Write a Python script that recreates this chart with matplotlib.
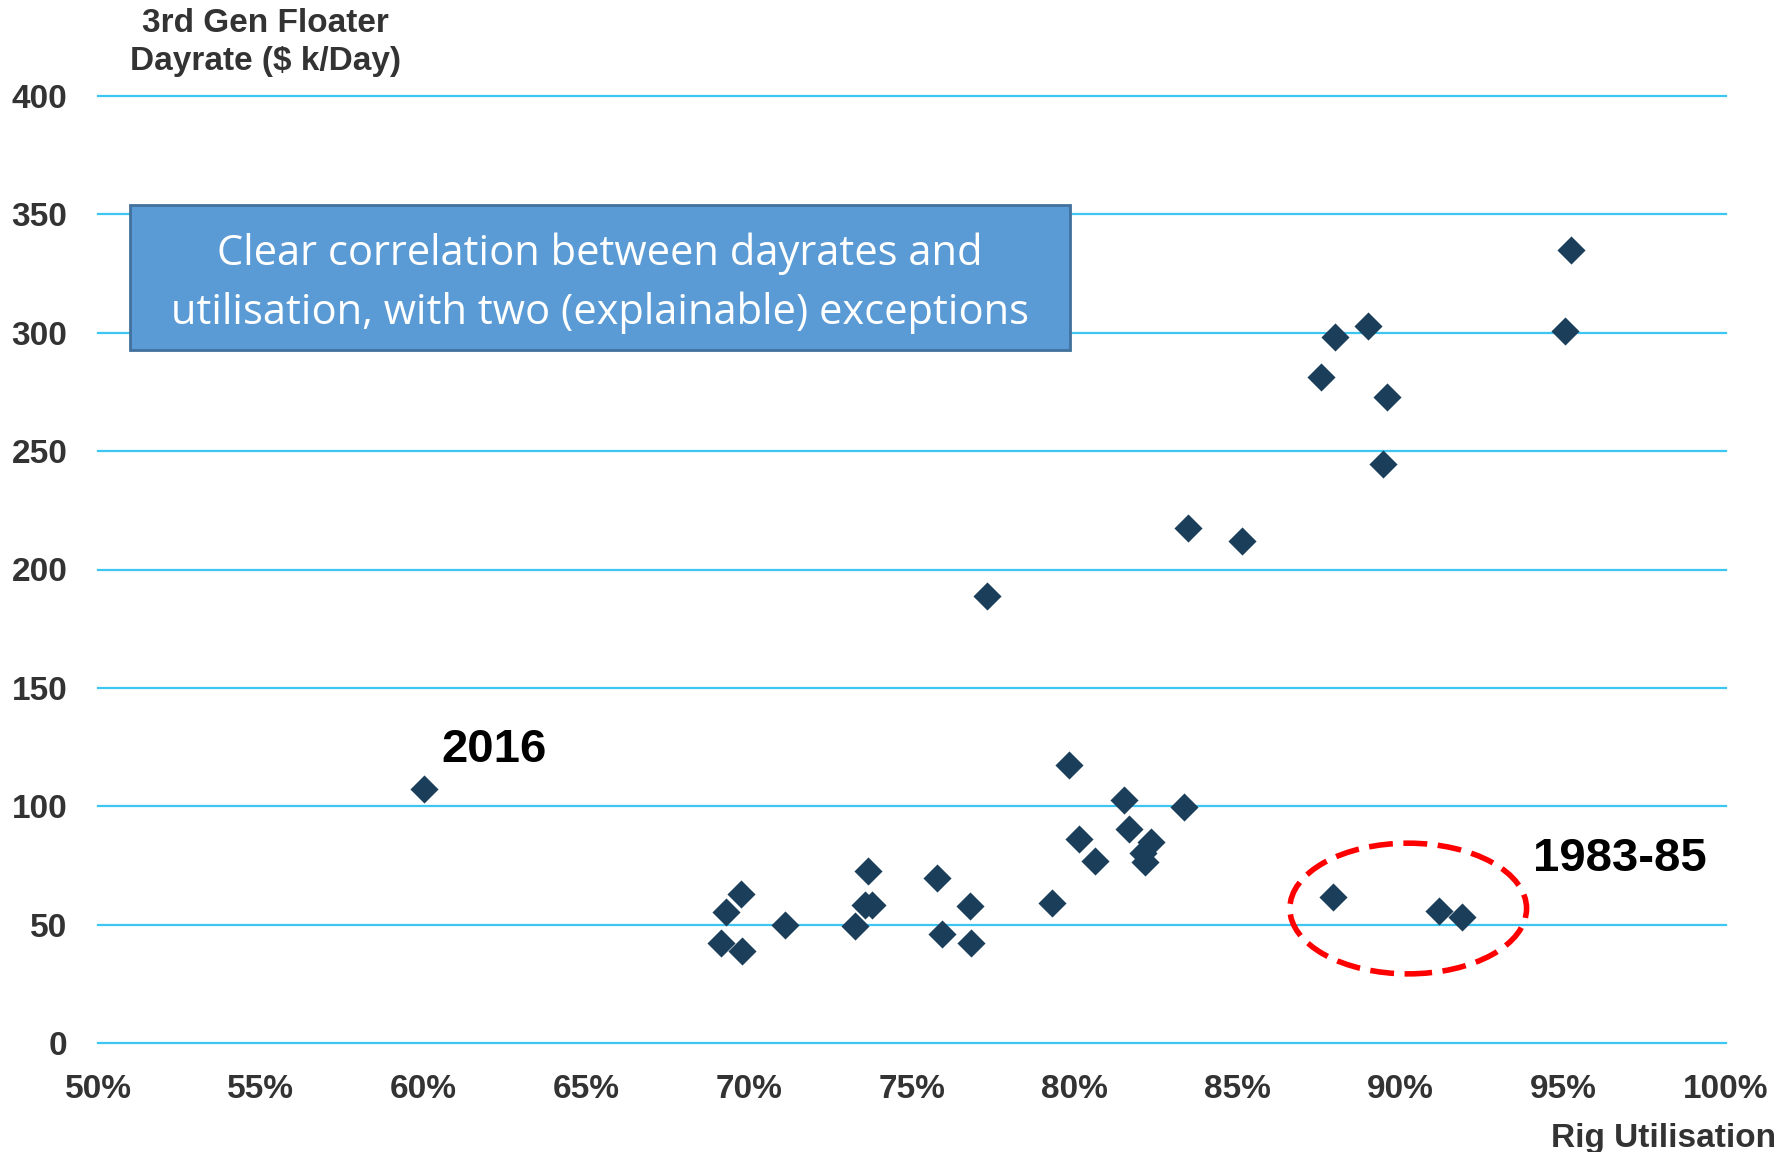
import matplotlib
matplotlib.use("Agg")
import matplotlib.pyplot as plt
from matplotlib.patches import Ellipse, Rectangle
from matplotlib.ticker import FuncFormatter

# ---- data ----
utilisation = [60.0, 69.14, 69.28, 69.75, 69.78, 71.09, 73.25, 73.57, 73.66, 73.77,
               75.77, 75.91, 76.78, 76.80, 77.30, 79.29, 79.83, 80.14, 80.61, 81.50,
               81.67, 82.09, 82.15, 82.35, 83.35, 83.49, 85.14, 87.55, 87.99, 89.02,
               89.58, 89.48, 95.07, 95.24, 87.94, 91.19, 91.88]
dayrate = [107.3, 42.2, 55.3, 63.1, 38.7, 50.0, 49.6, 58.3, 72.7, 58.3,
           69.7, 46.0, 58.0, 42.2, 189.0, 59.3, 117.5, 86.2, 77.0, 102.8,
           90.5, 80.3, 76.3, 84.7, 99.7, 217.7, 212.0, 281.5, 298.4, 302.7,
           272.7, 244.6, 300.8, 334.8, 61.7, 55.8, 53.4]
x_ticks = [50, 55, 60, 65, 70, 75, 80, 85, 90, 95, 100]
y_ticks = [0, 50, 100, 150, 200, 250, 300, 350, 400]
y_title = "3rd Gen Floater\nDayrate ($ k/Day)"
x_title = "Rig Utilisation"
box_text = "Clear correlation between dayrates and\nutilisation, with two (explainable) exceptions"
label_2016 = "2016"
label_8385 = "1983-85"

W, H = 1791, 1152
fig = plt.figure(figsize=(W / 100, H / 100), dpi=100)
ax = fig.add_axes([98 / W, 1 - 1043 / H, (1726 - 98) / W, (1043 - 96) / H])

grid_c = "#3EC6F2"
mark_c = "#1B3E5A"
tick_c = "#333333"

ax.scatter(utilisation, dayrate, marker="D", s=205,
           color=mark_c, linewidths=0, zorder=3)

ax.set_xlim(50, 100)
ax.set_ylim(0, 400)
ax.set_xticks(x_ticks)
ax.set_yticks(y_ticks)
ax.xaxis.set_major_formatter(FuncFormatter(lambda v, p: f"{v:.0f}%"))
for s in ax.spines.values():
    s.set_visible(False)
ax.yaxis.grid(True, color=grid_c, linewidth=1.6)
ax.xaxis.grid(False)
ax.set_axisbelow(True)
for gl in ax.get_ygridlines():
    gl.set_clip_on(False)
ax.tick_params(axis="both", length=0, labelsize=24, labelcolor=tick_c)
ax.tick_params(axis="y", pad=22)
ax.tick_params(axis="x", pad=22)
for lab in ax.get_xticklabels() + ax.get_yticklabels():
    lab.set_fontfamily("Liberation Sans")
    lab.set_fontweight("bold")

fig.text(265 / W, 1 - 8 / H, y_title, ha="center", va="top", fontsize=24,
         fontweight="bold", family="Liberation Sans", color=tick_c, linespacing=1.3)
fig.text(1776 / W, 1 - 1147 / H, x_title, ha="right", va="baseline", fontsize=24,
         fontweight="bold", family="Liberation Sans", color=tick_c)

# annotations
ax.text(60.56, 118.8, label_2016, ha="left", va="baseline", fontsize=34,
        fontweight="bold", family="Liberation Sans", color="black")
ax.text(94.07, 72.5, label_8385, ha="left", va="baseline", fontsize=34,
        fontweight="bold", family="Liberation Sans", color="black", clip_on=False)

ell = Ellipse((90.24, 56.8), 7.27, 55.2, fill=False, edgecolor="#FF0000",
              linewidth=4.0, linestyle=(0, (4.3, 1.9)), zorder=4)
ax.add_patch(ell)

# callout box
bx0, bx1, by0, by1 = 130 / W, 1070 / W, 1 - 350 / H, 1 - 205 / H
rect = Rectangle((bx0, by0), bx1 - bx0, by1 - by0, transform=fig.transFigure,
                 facecolor="#5B9BD5", edgecolor="#41719C", linewidth=2, zorder=5,
                 clip_on=False)
ax.add_patch(rect)
ax.text((bx0 + bx1) / 2, (by0 + by1) / 2 - 6 / H, box_text, transform=fig.transFigure,
        ha="center", va="center", fontsize=30, family="Open Sans", color="white",
        linespacing=1.5, zorder=6)

fig.savefig("out.png", dpi=100)
